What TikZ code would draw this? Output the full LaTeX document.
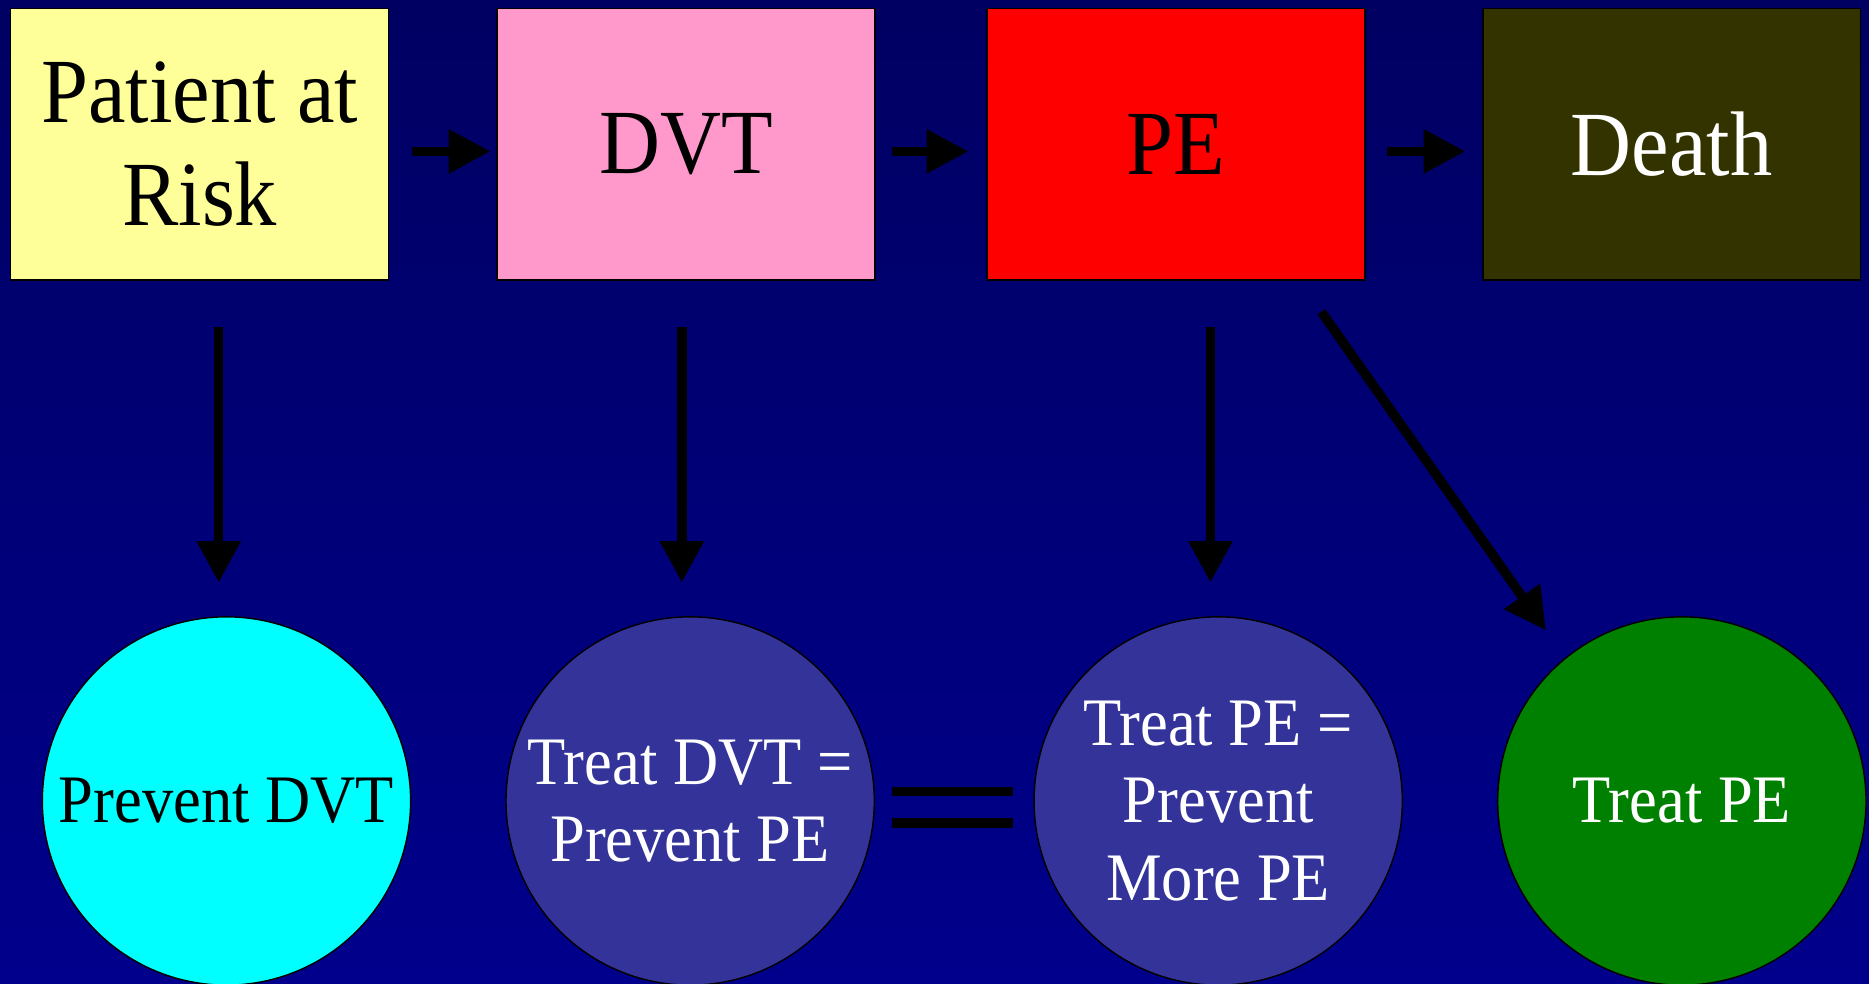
\documentclass[tikz,border=0pt]{standalone}
\usepackage{fontspec}
\setmainfont{Liberation Serif}[FakeStretch=0.92]
\usetikzlibrary{arrows.meta}

\definecolor{bgtop}{HTML}{000062}
\definecolor{bgbot}{HTML}{00008C}
\definecolor{yel}{HTML}{FFFF99}
\definecolor{pnk}{HTML}{FF99CC}
\definecolor{olv}{HTML}{333300}
\definecolor{cyn}{HTML}{00FFFF}
\definecolor{vio}{HTML}{333399}
\definecolor{grn}{HTML}{008000}

\begin{document}
\begin{tikzpicture} [x=1pt, y=1pt, align=center,
  box/.style={draw=black, line width=1.2pt, minimum width=317pt, minimum height=228pt,
    inner sep=0pt, font=\fontsize{77}{86}\selectfont},
  disc/.style={circle, draw=black, line width=1.2pt, minimum size=309pt,
    inner sep=0pt, font=\fontsize{57}{65}\selectfont},
  arr/.style={line width=8pt, -{Triangle[length=35pt,width=35pt]}},
  bar/.style={line width=8pt}]
  \useasboundingbox (0,0) rectangle (1568,825);
  \shade [top color=bgtop, bottom color=bgbot] (0,0) rectangle (1568,825);
  % top row
  \path  (167.5,704)  node[box, fill=yel](R)  {Patient at\\Risk}
          ++(408,0)   node[box, fill=pnk](DVT) {DVT}
          ++(411,0)   node[box, fill=red](PE)  {PE}
          ++(416,0)   node[box, fill=olv, text=white](D) {Death};
  % bottom row
  \path  (190,153)    node[disc, fill=cyn](PD) {Prevent DVT}
          ++(389,0)   node[disc, fill=vio, text=white](TD) {Treat DVT =\\Prevent PE}
          ++(443,0)   node[disc, fill=vio, text=white](TP) {Treat PE =\\Prevent\\More PE}
          ++(389,0)   node[disc, fill=grn, text=white](T)  {Treat PE};
  \draw [arr] ([xshift=19pt,yshift=-6pt]R.east) to ([xshift=-5pt,yshift=-6pt]DVT.west);
  \draw [arr] ([xshift=14pt,yshift=-6pt]DVT.east) to ([xshift=-15pt,yshift=-6pt]PE.west);
  \draw [arr] ([xshift=18pt,yshift=-6pt]PE.east) to ([xshift=-14pt,yshift=-6pt]D.west);
  \draw [arr] ([xshift=16pt,yshift=-39pt]R.south) to ([xshift=-6.5pt,yshift=28pt]PD.north);
  \draw [arr] ([xshift=-3.5pt,yshift=-39pt]DVT.south) to ([xshift=-7pt,yshift=28pt]TD.north);
  \draw [arr] ([xshift=29pt,yshift=-39pt]PE.south) to ([xshift=-6.5pt,yshift=28pt]TP.north);
  \draw [arr] ([xshift=122pt,yshift=-26pt]PE.south) to ([xshift=-114pt,yshift=-12pt]T.north);
  % equals
  \draw [bar] ([xshift=14pt,yshift=8pt]TD.east) to ([xshift=-17pt,yshift=8pt]TP.west);
  \draw [bar] ([xshift=14pt,yshift=-18.5pt]TD.east) to ([xshift=-17pt,yshift=-18.5pt]TP.west);
\end{tikzpicture}
\end{document}
